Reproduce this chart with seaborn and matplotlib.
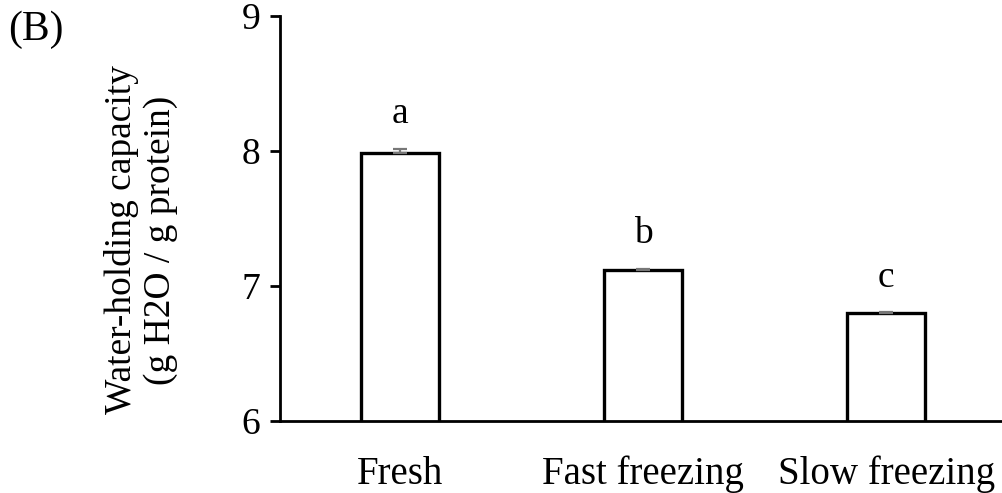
import matplotlib
matplotlib.use("Agg")
import matplotlib.pyplot as plt
import seaborn as sns
import pandas as pd

categories = ["Fresh", "Fast freezing", "Slow freezing"]
means = [7.985, 7.12, 6.80]
errors = [0.03, 0.005, 0.005]
letters = ["a", "b", "c"]
yticks = [6, 7, 8, 9]

sns.set_style("white")
plt.rcParams["font.family"] = ["Liberation Serif", "DejaVu Serif"]
plt.rcParams["text.color"] = "black"
plt.rcParams["xtick.color"] = "black"
plt.rcParams["ytick.color"] = "black"

df = pd.DataFrame({"group": categories, "value": means})

fig = plt.figure(figsize=(10.03, 4.93), dpi=100)
ax = fig.add_axes([280 / 1003, 72 / 493, (1003 - 280) / 1003, (421 - 16) / 493])

sns.barplot(data=df, x="group", y="value", order=categories, color="white",
            edgecolor="black", linewidth=2.4, width=0.32, ax=ax, errorbar=None)
for p in ax.patches:
    p.set_facecolor("white")
    p.set_edgecolor("black")

ax.errorbar(range(len(categories)), means, yerr=[[0] * len(errors), errors], fmt="none",
            ecolor="#777777", elinewidth=1.6, capsize=5, capthick=1.6, zorder=3)

for i, (m, e, l) in enumerate(zip(means, errors, letters)):
    ax.text(i, m + e + 0.19, l, ha="center", va="baseline", fontsize=27)

ax.set_ylim(6, 9)
ax.set_xlim(-0.494, 2.48)
ax.set_yticks(yticks)
ax.set_yticklabels([str(t) for t in yticks], fontsize=27)
ax.tick_params(axis="y", direction="out", length=7, width=2, pad=7, left=True)
ax.tick_params(axis="x", length=0, pad=25, labelsize=28)
ax.set_xlabel("")
ax.set_ylabel("")

for s in ["top", "right"]:
    ax.spines[s].set_visible(False)
for s in ["left", "bottom"]:
    ax.spines[s].set_linewidth(2)
    ax.spines[s].set_color("black")

fig.text(141 / 1003, 1 - 240 / 493, "Water-holding capacity\n(g H2O / g protein)",
         rotation=90, ha="center", va="center", multialignment="center", fontsize=27)
fig.text(8 / 1003, 1 - 30 / 493, "(B)", ha="left", va="center", fontsize=30)

fig.savefig("out.png", dpi=100, facecolor="white")
